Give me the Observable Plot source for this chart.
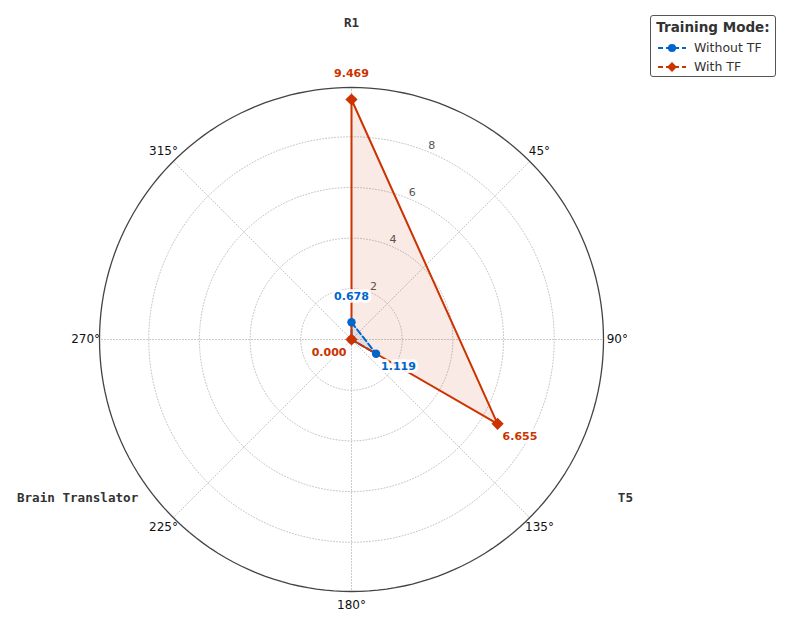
<!DOCTYPE html>
<html>
<head>
<meta charset="utf-8">
<script src="https://cdn.jsdelivr.net/npm/d3@7"></script>
<script src="https://cdn.jsdelivr.net/npm/@observablehq/plot@0.6"></script>
<style>
  html, body { margin: 0; padding: 0; background: #fff; }
  #wrap { position: relative; width: 793px; height: 627px; font-family: "DejaVu Sans", sans-serif; }
  #legend { position: absolute; left: 650px; top: 15px; width: 126px; height: 62px; border: 1px solid #555; border-radius: 3px; background: #fff; box-sizing: border-box; }
  #legend .title { font-weight: bold; font-size: 13.5px; color: #333; text-align: center; margin-top: 3px; height: 19px; }
  #legend .row { display: flex; align-items: center; height: 19px; font-size: 12.5px; color: #333; }
  #legend svg { margin: 0 8px 0 7px; }
</style>
</head>
<body>
<div id="wrap"><div id="chart"></div><div id="legend"></div></div>
<script>
// ---- data ----
const categories = ["R1", "T5", "Brain Translator"];
const seriesNames = ["Without TF", "With TF"];
const withoutTF = [0.678, 1.119, 0.000];
const withTF = [9.469, 6.655, 0.000];
const ringTicks = [2, 4, 6, 8];
const thetaGrid = [0, 45, 90, 135, 180, 225, 270, 315];
const thetaLabels = ["45°", "90°", "135°", "180°", "225°", "270°", "315°"];
const thetaLabelAngles = [45, 90, 135, 180, 225, 270, 315];
const colors = ["#0066CC", "#CC3300"];

// ---- geometry ----
const W = 793, H = 627;
const cx = 351, cy = 339, outerPx = 252;
const rMax = d3.max(withTF) * 1.05;
const k = outerPx / rMax;
const rad = d => d * Math.PI / 180;
const X = (r, t) => r * Math.sin(rad(t));
const Y = (r, t) => r * Math.cos(rad(t));
const angles = categories.map((c, i) => i * 360 / categories.length);

function circle(r, key) {
  return d3.range(0, 361, 2).map(t => ({x: X(r, t), y: Y(r, t), key}));
}
const ringPts = ringTicks.flatMap(r => circle(r, r));
const outerPts = circle(rMax, "outer");
const spokes = thetaGrid.flatMap(t => [{x: 0, y: 0, t}, {x: X(rMax, t), y: Y(rMax, t), t}]);

function poly(vals, name) {
  return vals.map((v, i) => ({x: X(v, angles[i]), y: Y(v, angles[i]), v, name, cat: categories[i], a: angles[i]}));
}
const seriesPts = [poly(withoutTF, seriesNames[0]), poly(withTF, seriesNames[1])];
const closed = seriesPts.map(p => [...p, p[0]]);
const labelPts = seriesPts.map(p => p.map(d => ({...d, lx: X(d.v + 1.02, d.a), ly: Y(d.v + 1.02, d.a), label: d.v.toFixed(3)})));

const ringLabels = ringTicks.map(r => ({r, x: X(r + 0.27, 22.5), y: Y(r + 0.27, 22.5)}));
const thetaText = thetaLabelAngles.map((t, i) => ({x: X(rMax * 1.055, t), y: Y(rMax * 1.055, t), label: thetaLabels[i]}));
const catText = categories.map((c, i) => ({x: X(rMax * 1.255, angles[i]), y: Y(rMax * 1.255, angles[i]), label: c}));

const chart = Plot.plot({
  width: W, height: H,
  margin: 0,
  x: {domain: [-cx / k, (W - cx) / k], range: [0, W], axis: null},
  y: {domain: [-(H - cy) / k, cy / k], range: [H, 0], axis: null},
  style: {fontFamily: "DejaVu Sans, sans-serif", background: "white"},
  marks: [
    Plot.line(ringPts, {x: "x", y: "y", z: "key", stroke: "#bdbdbd", strokeWidth: 0.9, strokeDasharray: "1,2"}),
    Plot.line(spokes, {x: "x", y: "y", z: "t", stroke: "#bdbdbd", strokeWidth: 0.9, strokeDasharray: "1,2"}),
    Plot.line(outerPts, {x: "x", y: "y", stroke: "#444", strokeWidth: 1.3}),
    Plot.text(ringLabels, {x: "x", y: "y", text: d => String(d.r), fill: "#555", fontSize: 11}),
    Plot.text(thetaText, {x: "x", y: "y", text: "label", fill: "#111", fontSize: 12}),
    Plot.text(catText, {x: "x", y: "y", text: "label", fill: "#333", fontSize: 12.6, fontWeight: "bold", fontFamily: "DejaVu Sans Mono, monospace"}),
    // fills
    Plot.line(closed[1], {x: "x", y: "y", fill: colors[1], fillOpacity: 0.1, stroke: "none", curve: "linear-closed"}),
    Plot.line(closed[0], {x: "x", y: "y", fill: colors[0], fillOpacity: 0.1, stroke: "none", curve: "linear-closed"}),
    // lines
    Plot.line(closed[0], {x: "x", y: "y", stroke: colors[0], strokeWidth: 2, strokeDasharray: "6,3"}),
    Plot.line(closed[1], {x: "x", y: "y", stroke: colors[1], strokeWidth: 2}),
    Plot.dot(seriesPts[0], {x: "x", y: "y", r: 4.2, fill: colors[0], stroke: "none"}),
    Plot.dot(seriesPts[1], {x: "x", y: "y", r: 5.5, symbol: "diamond2", fill: colors[1], stroke: "none"}),
    // value labels
    Plot.text(labelPts[0], {x: "lx", y: "ly", text: "label", fill: colors[0], fontSize: 11, fontWeight: "bold", stroke: "white", strokeWidth: 6, strokeOpacity: 0.9}),
    Plot.text(labelPts[1], {x: "lx", y: "ly", text: "label", fill: colors[1], fontSize: 11, fontWeight: "bold", stroke: "white", strokeWidth: 6, strokeOpacity: 0.9})
  ]
});
document.getElementById("chart").appendChild(chart);

// legend
const lg = document.getElementById("legend");
lg.innerHTML = `<div class="title">Training Mode:</div>` + seriesNames.map((n, i) => {
  const mk = i === 0
    ? `<circle cx="14" cy="5" r="4" fill="${colors[0]}"/>`
    : `<path d="M14,0 L19,5 L14,10 L9,5 Z" fill="${colors[1]}"/>`;
  return `<div class="row"><svg width="28" height="10"><line x1="0" y1="5" x2="28" y2="5" stroke="${colors[i]}" stroke-width="2" stroke-dasharray="5,3"/>${mk}</svg>${n}</div>`;
}).join("");
</script>
</body>
</html>
